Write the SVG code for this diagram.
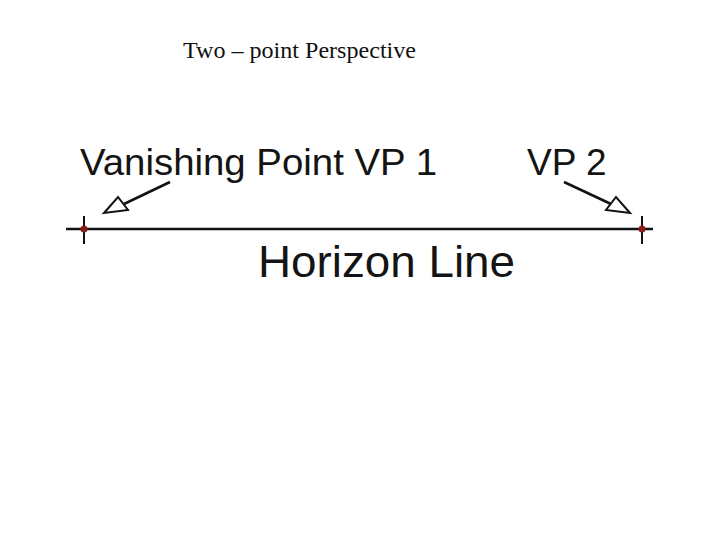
<svg xmlns="http://www.w3.org/2000/svg" width="720" height="540" viewBox="0 0 720 540">
<style>
.lbl{font-family:"Liberation Sans",Arial,sans-serif;fill:#141414}
.ln{stroke:#111;stroke-width:2.5;fill:none}
.tick{stroke:#111;stroke-width:2}
.arr{stroke:#111;stroke-width:2.5;fill:none}
.head{stroke:#111;stroke-width:2;fill:#fff;stroke-linejoin:miter}
</style>
<rect width="720" height="540" fill="#fff"/>
<text x="183" y="58" font-family="'Liberation Serif',serif" font-size="23" fill="#111" textLength="233" lengthAdjust="spacingAndGlyphs">Two – point Perspective</text>
<g id="horizon">
<line class="ln" x1="66" y1="229" x2="653" y2="229"/>
</g>
<g id="vp1">
<line class="tick" x1="84" y1="216" x2="84" y2="244"/>
<circle cx="84" cy="229" r="3.5" fill="#8b1a1a"/>
</g>
<g id="vp2">
<line class="tick" x1="642" y1="216" x2="642" y2="244"/>
<circle cx="642" cy="229" r="3.5" fill="#8b1a1a"/>
</g>
<g id="connectors">
<line class="arr" x1="170" y1="182" x2="124" y2="204"/>
<polygon class="head" points="104,213 118,197 128,210"/>
<line class="arr" x1="564" y1="182" x2="611" y2="204"/>
<polygon class="head" points="630,213 616,197 606,210"/>
</g>
<g id="labels">
<text class="lbl" x="80" y="175" font-size="37" textLength="357" lengthAdjust="spacingAndGlyphs">Vanishing Point VP 1</text>
<text class="lbl" x="527" y="175" font-size="37">VP 2</text>
<text class="lbl" x="258" y="277" font-size="45" textLength="257" lengthAdjust="spacingAndGlyphs">Horizon Line</text>
</g>
</svg>
